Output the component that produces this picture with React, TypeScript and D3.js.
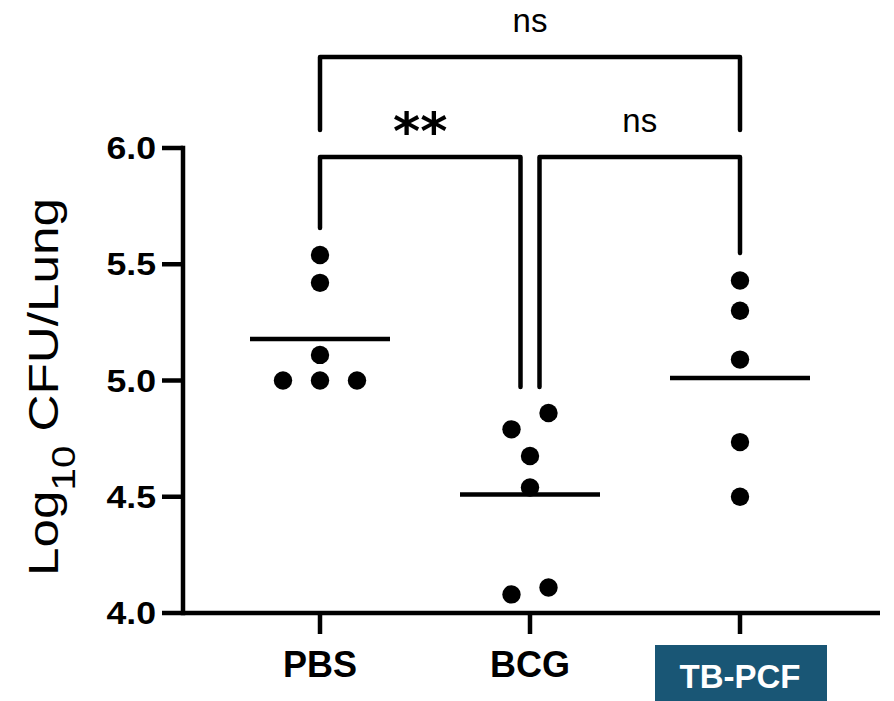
import React from "react";
import * as d3 from "d3";

const groups = ["PBS", "BCG", "TB-PCF"];
const pbsValues = [5.54, 5.42, 5.11, 5.0, 5.0, 5.0];
const bcgValues = [4.79, 4.86, 4.675, 4.54, 4.08, 4.11];
const tbValues = [5.43, 5.3, 5.09, 4.735, 4.5];
// horizontal scatter slots (in half-diameter units)
const pbsSlots = [0, 0, 0, -2, 0, 2];
const bcgSlots = [-1, 1, 0, 0, -1, 1];
const tbSlots = [0, 0, 0, 0, 0];
const yTicks = [4.0, 4.5, 5.0, 5.5, 6.0];
// significance brackets
const bracketFrom = ["PBS", "PBS", "BCG"];
const bracketTo = ["TB-PCF", "BCG", "TB-PCF"];
const bracketLevel = [6.391, 5.961, 5.961];
const bracketLeftEnd = [6.077, 5.656, 4.972];
const bracketRightEnd = [6.077, 4.972, 5.548];
const bracketLabel = ["ns", "**", "ns"];

const FONT = "'Liberation Sans', Arial, Helvetica, sans-serif";

export default function App() {
  const W = 894, H = 701;
  const left = 183, right = 880, top = 148, bottom = 613;
  const y = d3.scaleLinear().domain([4, 6]).range([bottom, top]);
  const x = d3.scalePoint<string>().domain(groups).range([320, 740]);
  const series = [pbsValues, bcgValues, tbValues];
  const slots = [pbsSlots, bcgSlots, tbSlots];
  const slotW = 18.5;
  const r = 9.2;
  const meanHalf = 70;
  const sw = 4.5;

  const bracketOffset = (g: string, i: number) => {
    if (g === "BCG" && bracketFrom[i] === "PBS" && bracketTo[i] === "BCG") return -9.5;
    if (g === "BCG" && bracketFrom[i] === "BCG") return 9.5;
    return 0;
  };

  return (
    <svg width={W} height={H} style={{ position: "absolute", left: 0, top: 0, background: "#fff" }}>
      {/* Y axis */}
      <line x1={left} x2={left} y1={y(6)} y2={y(4)} stroke="#000" strokeWidth={sw} strokeLinecap="square" />
      {yTicks.map((t) => (
        <g key={t}>
          <line x1={left - 21} x2={left} y1={y(t)} y2={y(t)} stroke="#000" strokeWidth={sw} />
          <text
            transform={`translate(156,${y(t) + 11}) scale(1.15,1)`}
            textAnchor="end"
            fontFamily={FONT}
            fontWeight="bold"
            fontSize={31}
          >
            {d3.format(".1f")(t)}
          </text>
        </g>
      ))}
      {/* Y title */}
      <text
        transform={`translate(58,${(197 + 577) / 2}) rotate(-90) scale(1.22,1)`}
        textAnchor="middle"
        fontFamily={FONT}
        fontSize={42}
      >
        Log
        <tspan fontSize={33} dy={17}>10</tspan>
        <tspan dy={-17}> CFU/Lung</tspan>
      </text>
      {/* X axis */}
      <line x1={left} x2={right} y1={bottom} y2={bottom} stroke="#000" strokeWidth={sw} />
      {groups.map((g) => (
        <line key={g} x1={x(g)} x2={x(g)} y1={bottom} y2={bottom + 21} stroke="#000" strokeWidth={sw} />
      ))}
      {groups.map((g) =>
        g === "TB-PCF" ? (
          <g key={g}>
            <rect x={(x(g) as number) - 85} y={645} width={172} height={60} fill="#195675" />
            <text x={x(g)} y={688} textAnchor="middle" fill="#fff" fontFamily={FONT} fontWeight="bold" fontSize={33}>
              {g}
            </text>
          </g>
        ) : (
          <text key={g} x={x(g)} y={677} textAnchor="middle" fontFamily={FONT} fontWeight="bold" fontSize={36}>
            {g}
          </text>
        )
      )}
      {/* points */}
      {series.map((vals, gi) =>
        vals.map((v, i) => (
          <circle
            key={`${gi}-${i}`}
            cx={(x(groups[gi]) as number) + slots[gi][i] * slotW}
            cy={y(v)}
            r={r}
            fill="#000"
          />
        ))
      )}
      {/* means */}
      {series.map((vals, gi) => {
        const m = d3.mean(vals) as number;
        const cx = x(groups[gi]) as number;
        return <line key={gi} x1={cx - meanHalf} x2={cx + meanHalf} y1={y(m)} y2={y(m)} stroke="#000" strokeWidth={sw} />;
      })}
      {/* brackets */}
      {bracketFrom.map((f, i) => {
        const x1 = (x(f) as number) + bracketOffset(f, i);
        const x2 = (x(bracketTo[i]) as number) + bracketOffset(bracketTo[i], i);
        const yl = y(bracketLevel[i]);
        const path = d3.path();
        path.moveTo(x1, y(bracketLeftEnd[i]));
        path.lineTo(x1, yl);
        path.lineTo(x2, yl);
        path.lineTo(x2, y(bracketRightEnd[i]));
        const isStar = bracketLabel[i] === "**";
        return (
          <g key={i}>
            <path d={path.toString()} fill="none" stroke="#000" strokeWidth={sw} strokeLinecap="round" strokeLinejoin="round" />
            {isStar ? (
              <text x={(x1 + x2) / 2} y={yl - 8} textAnchor="middle" fontFamily="'DejaVu Sans', sans-serif" fontWeight="bold" fontSize={52}>
                {bracketLabel[i]}
              </text>
            ) : (
              <text x={(x1 + x2) / 2} y={yl - 25} textAnchor="middle" fontFamily={FONT} fontSize={33}>
                {bracketLabel[i]}
              </text>
            )}
          </g>
        );
      })}
    </svg>
  );
}
